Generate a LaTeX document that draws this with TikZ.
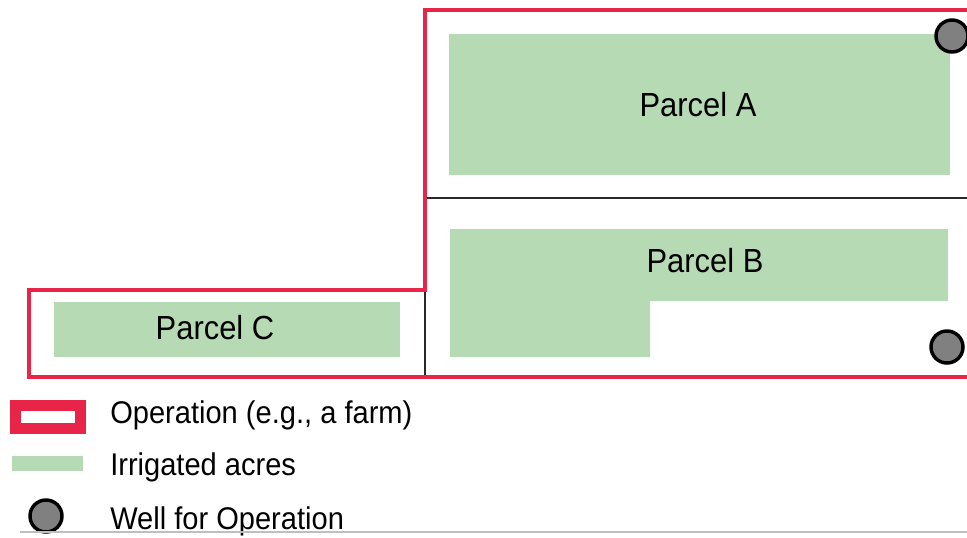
\documentclass[tikz,border=0pt]{standalone}
\usepackage{fontspec}
\setmainfont{Liberation Sans}
\usepackage{xcolor}
\definecolor{opRed}{RGB}{232,36,72}
\definecolor{irrGreen}{RGB}{182,219,180}
\definecolor{wellGrey}{RGB}{128,128,128}
\definecolor{lineDark}{RGB}{40,40,40}
\usepackage{tikz}
\usetikzlibrary{positioning}
\newcommand{\tallText}[1]{\scalebox{1}[1.08]{#1}}

\begin{document}
\begin{tikzpicture}[x=0.75pt,y=-0.75pt,
      every node/.style={inner sep=0pt},
      parcellabel/.style={font=\fontsize{23.2}{27}\selectfont,anchor=base},
      legendtext/.style={font=\fontsize{21.8}{26}\selectfont,anchor=base west},
      operation/.style={draw=opRed,line width=3.2pt},
      divider/.style={draw=lineDark,line width=1.6pt},
      irrigated/.style={fill=irrGreen},
      well/.style={circle,draw=black,fill=wellGrey,line width=2.6pt,
                   minimum size=24pt},
    ]

    % --- Irrigated acres ---
    \fill[irrigated] (449,34) rectangle (950,175);
    \fill[irrigated] (450,229) -- (948,229) -- (948,301) -- (650,301)
                     -- (650,357) -- (450,357) -- cycle;
    \fill[irrigated] (54,302) rectangle (400,357);

    % --- Parcel borders ---
    \draw[divider] (425,198) -- (970,198);
    \draw[divider] (425,290) -- (425,377);

    % --- Operation outline ---
    \draw[operation] (975,377) -- (29,377) -- (29,290) -- (425,290)
                     -- (425,10) -- (975,10);

    % --- Parcel labels ---
    \node[parcellabel] (parcelA) at (698,116) {\tallText{Parcel A}};
    \node[parcellabel] (parcelB) at (705,272) {\tallText{Parcel B}};
    \node[parcellabel] (parcelC) at (215,339) {\tallText{Parcel C}};

    % --- Wells ---
    \node[well] (wellA) at (952,36) {};
    \node[well] (wellB) at (947,347) {};

    % --- Legend ---
    \draw[draw=opRed,line width=8.2pt] (15.5,405.5) rectangle (80.5,428.5);
    \fill[irrigated] (12,456) rectangle (83,471);
    \node[well,minimum size=24pt] (wellKey) at (46,516) {};

    \node[legendtext] (opText) at (110,423) {\tallText{Operation (e.g., a farm)}};
    \node[legendtext] (irrText) at (110,475) {\tallText{Irrigated acres}};
    \node[legendtext] (wellText) at (110,529) {\tallText{Well for Operation}};

    \draw[black!25,line width=0.8pt] (20,532) -- (967,532);

    \pgfresetboundingbox
    \path[use as bounding box] (0,0) rectangle (967,537);
  \end{tikzpicture}
\end{document}
